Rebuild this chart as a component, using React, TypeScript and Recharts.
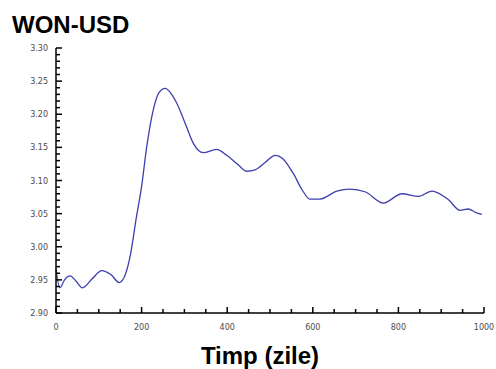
import { LineChart, Line, XAxis, YAxis } from 'recharts'

// Exchange rate over time (days)
const DAYS = [
  0, 9, 20, 33, 47, 62, 85, 107, 128, 148, 162, 173, 188, 200, 212, 227, 240, 255, 268, 282, 305,
  321, 344, 375, 399, 425, 446, 465, 490, 512, 530, 554, 575, 593, 617, 656, 687, 722, 765, 808,
  847, 878, 917, 944, 963, 980, 995,
]
const RATE = [
  2.966, 2.938, 2.95, 2.956, 2.948, 2.938, 2.952, 2.964, 2.958, 2.946, 2.958, 2.985, 3.045, 3.091,
  3.151, 3.206, 3.232, 3.239, 3.232, 3.217, 3.181, 3.156, 3.142, 3.147, 3.138, 3.124, 3.114,
  3.116, 3.128, 3.138, 3.133, 3.111, 3.086, 3.072, 3.072, 3.084, 3.087, 3.083, 3.066, 3.08, 3.076,
  3.084, 3.071, 3.055, 3.057, 3.052, 3.049,
]

const X_MAJOR = [0, 200, 400, 600, 800, 1000]
const X_TICKS = [
  0, 50, 100, 150, 200, 250, 300, 350, 400, 450, 500, 550, 600, 650, 700, 750, 800, 850, 900, 950,
  1000,
]
const Y_MAJOR = ['2.90', '2.95', '3.00', '3.05', '3.10', '3.15', '3.20', '3.25', '3.30']
// minor ticks every 0.01
const Y_TICKS = Array.from({ length: 41 }, (_, i) => Math.round((2.9 + i * 0.01) * 100) / 100)

const data = DAYS.map((d, i) => ({ day: d, rate: RATE[i] }))

const LABEL_COLOR = '#4a4a4a'
const TICK_FONT = 'Tahoma, "DejaVu Sans", sans-serif'

function XTick(props: any) {
  const { x, y, payload } = props
  const major = X_MAJOR.includes(payload.value)
  const len = major ? 6 : 4
  return (
    <g>
      <path d={`M${x},${y}L${x},${y - len}`} stroke="#000" strokeWidth={1.5} />
      {major && (
        <text x={x} y={y + 17} textAnchor="middle" fontSize={8} fill={LABEL_COLOR} fontFamily={TICK_FONT}>
          {payload.value}
        </text>
      )}
    </g>
  )
}

function YTick(props: any) {
  const { x, y, payload } = props
  const label = Number(payload.value).toFixed(2)
  const major = Y_MAJOR.includes(label)
  const len = major ? 6 : 4
  return (
    <g>
      <path d={`M${x},${y}L${x + len},${y}`} stroke="#000" strokeWidth={1.5} />
      {major && (
        <text x={x - 8} y={y + 3} textAnchor="end" fontSize={8} fill={LABEL_COLOR} fontFamily={TICK_FONT}>
          {label}
        </text>
      )}
    </g>
  )
}

export default function App() {
  return (
    <div style={{ position: 'fixed', left: 0, top: 0, width: 496, height: 369, background: '#fff' }}>
      <LineChart width={496} height={369} data={data} margin={{ top: 48, right: 12, bottom: 36, left: 16 }}>
        <XAxis
          dataKey="day"
          type="number"
          domain={[0, 1000]}
          ticks={X_TICKS}
          interval={0}
          tickSize={0}
          tickMargin={0}
          height={20}
          tickLine={false}
          axisLine={{ stroke: '#000', strokeWidth: 1.5 }}
          tick={XTick}
        />
        <YAxis
          type="number"
          domain={[2.9, 3.3]}
          ticks={Y_TICKS}
          interval={0}
          tickSize={0}
          tickMargin={0}
          width={40}
          tickLine={false}
          axisLine={{ stroke: '#000', strokeWidth: 1.5 }}
          tick={YTick}
          allowDataOverflow
        />
        <Line
          type="monotone"
          dataKey="rate"
          stroke="#3d3fae"
          strokeWidth={1.3}
          dot={false}
          isAnimationActive={false}
        />
      </LineChart>
      <svg
        width={496}
        height={369}
        style={{ position: 'absolute', left: 0, top: 0, pointerEvents: 'none' }}
      >
        <text x={12} y={33} fontSize={24} fontWeight="bold" fontFamily="'Liberation Sans', Arial, sans-serif" fill="#000">
          WON-USD
        </text>
        <text
          x={260}
          y={364}
          textAnchor="middle"
          fontSize={24}
          fontWeight="bold"
          fontFamily="'Liberation Sans', Arial, sans-serif"
          fill="#000"
        >
          Timp (zile)
        </text>
      </svg>
    </div>
  )
}
